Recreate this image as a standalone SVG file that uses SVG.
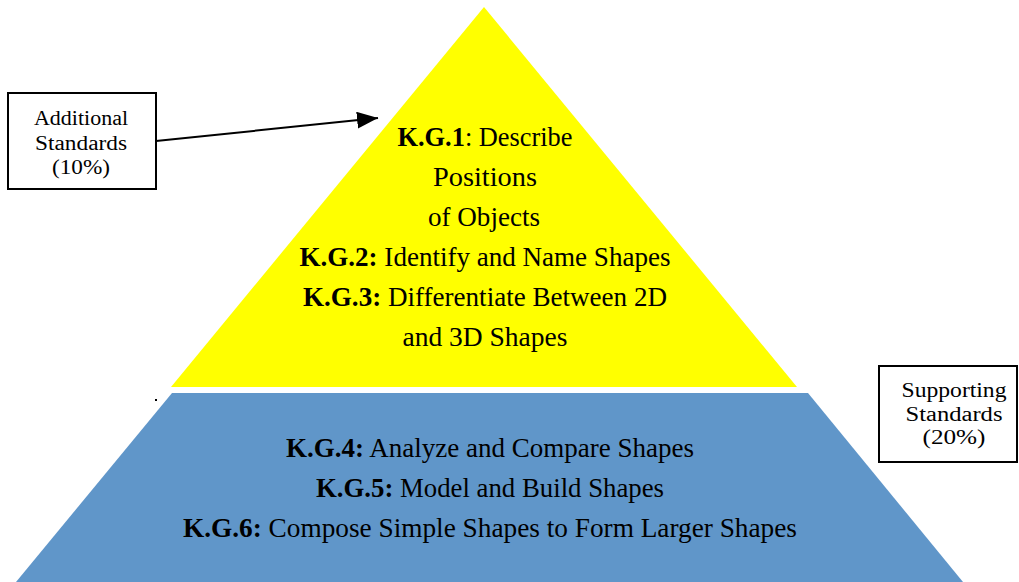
<svg xmlns="http://www.w3.org/2000/svg" width="1019" height="582" viewBox="0 0 1019 582">
<style>
.t{font-family:"Liberation Serif","DejaVu Serif",serif;fill:#000;text-anchor:middle}
.big{font-size:27px}
.sm{font-size:20px}
.b{font-weight:bold}
.box{fill:#fff;stroke:#000;stroke-width:2}
</style>
<defs>
<marker id="ah" viewBox="0 0 10 10" refX="10" refY="5" markerWidth="21" markerHeight="17" markerUnits="userSpaceOnUse" orient="auto" preserveAspectRatio="none">
<path d="M0,0 L10,5 L0,10 Z" fill="#000"/>
</marker>
</defs>
<rect width="1019" height="582" fill="#fff"/>
<g id="top-tier">
<polygon points="484,7 797,387 171,387" fill="#FFFF00"/>
<text class="t big" x="485" y="146" textLength="175" lengthAdjust="spacingAndGlyphs"><tspan class="b">K.G.1</tspan>: Describe</text>
<text class="t big" x="485" y="186" textLength="104" lengthAdjust="spacingAndGlyphs">Positions</text>
<text class="t big" x="484" y="226" textLength="112" lengthAdjust="spacingAndGlyphs">of Objects</text>
<text class="t big" x="485" y="266" textLength="371" lengthAdjust="spacingAndGlyphs"><tspan class="b">K.G.2:</tspan> Identify and Name Shapes</text>
<text class="t big" x="485" y="306" textLength="364" lengthAdjust="spacingAndGlyphs"><tspan class="b">K.G.3:</tspan> Differentiate Between 2D</text>
<text class="t big" x="485" y="346" textLength="165" lengthAdjust="spacingAndGlyphs">and 3D Shapes</text>
</g>
<g id="bottom-tier">
<polygon points="172,393 808,393 963,582 16,582" fill="#6096C9"/>
<text class="t big" x="490" y="457" textLength="408" lengthAdjust="spacingAndGlyphs"><tspan class="b">K.G.4:</tspan> Analyze and Compare Shapes</text>
<text class="t big" x="490" y="497" textLength="348" lengthAdjust="spacingAndGlyphs"><tspan class="b">K.G.5:</tspan> Model and Build Shapes</text>
<text class="t big" x="490" y="537" textLength="614" lengthAdjust="spacingAndGlyphs"><tspan class="b">K.G.6:</tspan> Compose Simple Shapes to Form Larger Shapes</text>
</g>
<g id="additional-standards">
<rect class="box" x="8" y="93" width="148" height="96"/>
<text class="t sm" x="81" y="125" textLength="94" lengthAdjust="spacingAndGlyphs">Additional</text>
<text class="t sm" x="81" y="150" textLength="92" lengthAdjust="spacingAndGlyphs">Standards</text>
<text class="t sm" x="81" y="174" textLength="58" lengthAdjust="spacingAndGlyphs">(10%)</text>
</g>
<g id="supporting-standards">
<rect class="box" x="879" y="366" width="138" height="96"/>
<text class="t sm" x="954" y="397" textLength="105" lengthAdjust="spacingAndGlyphs">Supporting</text>
<text class="t sm" x="954" y="421" textLength="97" lengthAdjust="spacingAndGlyphs">Standards</text>
<text class="t sm" x="954" y="444" textLength="63" lengthAdjust="spacingAndGlyphs">(20%)</text>
</g>
<g id="connectors">
<line x1="156" y1="141" x2="378" y2="118" stroke="#000" stroke-width="2" marker-end="url(#ah)"/>
</g>
<rect x="155" y="399" width="2" height="2" fill="#000"/>
</svg>
